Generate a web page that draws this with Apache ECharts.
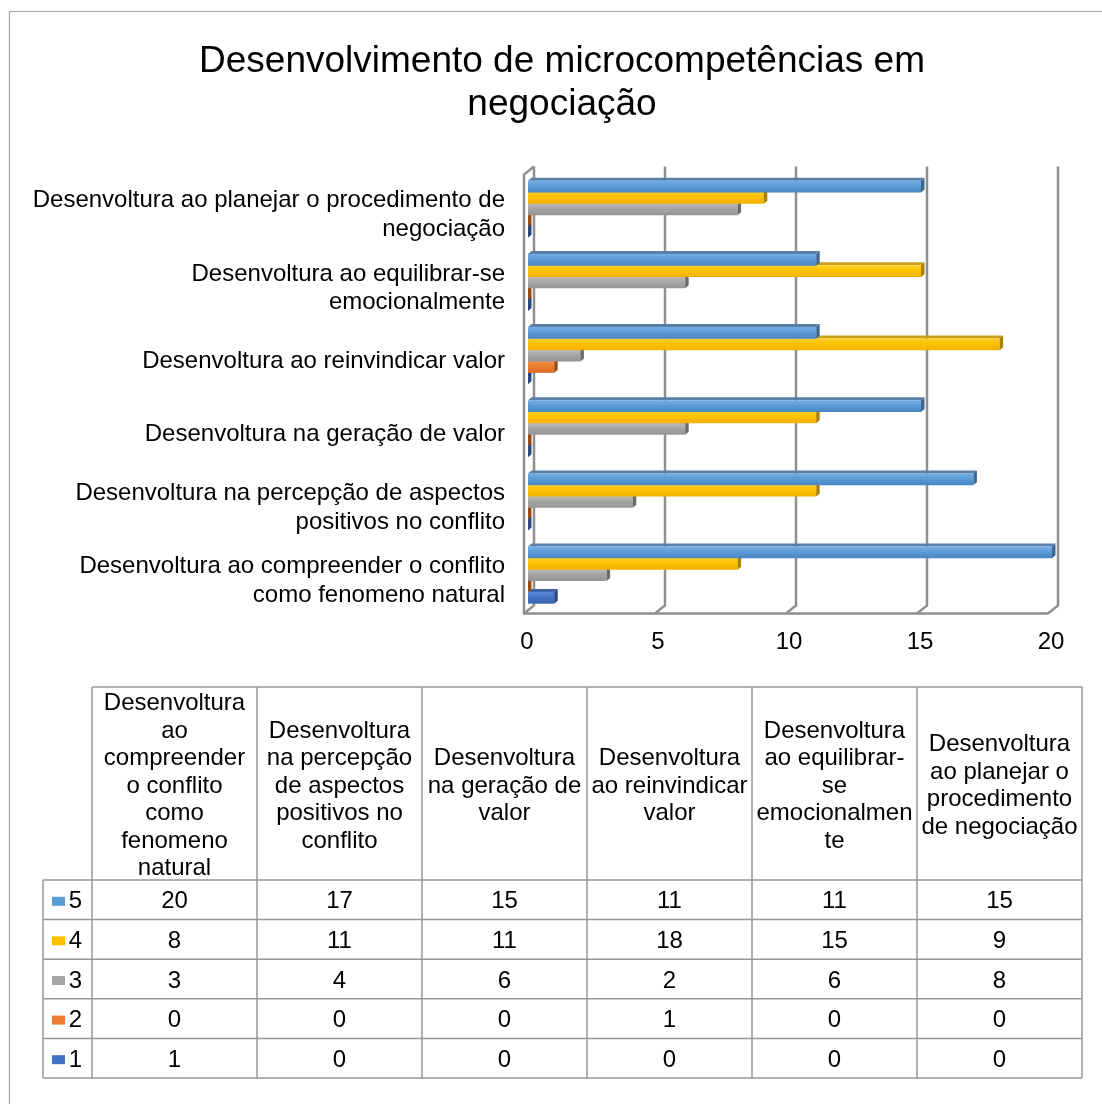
<!DOCTYPE html>
<html>
<head>
<meta charset="utf-8">
<title>Desenvolvimento de microcompetências em negociação</title>
<script src="https://cdn.jsdelivr.net/npm/echarts@6/dist/echarts.min.js"></script>
<style>
  html, body { margin: 0; padding: 0; background: #fff; }
  #chart { width: 1102px; height: 1104px; }
</style>
</head>
<body>
<div id="chart"></div>
<script>
// Competences, listed bottom-to-top on the bar chart and left-to-right in the table
const categories = [
  'Desenvoltura ao compreender o conflito\ncomo fenomeno natural',
  'Desenvoltura na percepção de aspectos\npositivos no conflito',
  'Desenvoltura na geração de valor',
  'Desenvoltura ao reinvindicar valor',
  'Desenvoltura ao equilibrar-se\nemocionalmente',
  'Desenvoltura ao planejar o procedimento de\nnegociação'
];
const tableHeaders = [
  'Desenvoltura\nao\ncompreender\no conflito\ncomo\nfenomeno\nnatural',
  'Desenvoltura\nna percepção\nde aspectos\npositivos no\nconflito',
  'Desenvoltura\nna geração de\nvalor',
  'Desenvoltura\nao reinvindicar\nvalor',
  'Desenvoltura\nao equilibrar-\nse\nemocionalmen\nte',
  'Desenvoltura\nao planejar o\nprocedimento\nde negociação'
];

// Answer counts per rating level
const level5 = [20, 17, 15, 11, 11, 15];
const level4 = [8, 11, 11, 18, 15, 9];
const level3 = [3, 4, 6, 2, 6, 8];
const level2 = [0, 0, 0, 1, 0, 0];
const level1 = [1, 0, 0, 0, 0, 0];

const tableRows = ['5', '4', '3', '2', '1'];
const xTicks = [0, 5, 10, 15, 20];

const levelValues = { '5': level5, '4': level4, '3': level3, '2': level2, '1': level1 };

const FONT = "'Liberation Sans', Arial, Helvetica, sans-serif";

// Colours for each level: front gradient, top face, end cap, legend key
const palette = {
  '5': { grad: ['#74afe6', '#5b9bd5', '#4886c4'], top: '#587fa8', cap: '#3d6894', key: '#5b9bd5' },
  '4': { grad: ['#ffd128', '#ffc000', '#f0b200'], top: '#c99f1e', cap: '#a98000', key: '#ffc000' },
  '3': { grad: ['#bcbcbc', '#a5a5a5', '#959595'], top: '#8d8d8d', cap: '#6a6a6a', key: '#a5a5a5' },
  '2': { grad: ['#f3924f', '#ed7d31', '#d96a1f'], top: '#bd6530', cap: '#9c4a14', key: '#ed7d31' },
  '1': { grad: ['#5a86d6', '#4472c4', '#3762ad'], top: '#3f63a0', cap: '#2a4880', key: '#4472c4' }
};

// 3D depth of the plot box: back wall and front floor relative to the bar plane
const BACK_DX = 6, BACK_DY = -4.5, FRONT_DX = -4, FRONT_DY = 3.5;
// bar depth (top face / end cap)
const BAR_DX = 3.5, BAR_DY = 3;
// bar slot as a share of the category band, and shift of the cluster
const SLOT_RATIO = 0.155, CLUSTER_SHIFT = 1.5;

const chart = echarts.init(document.getElementById('chart'), null, { renderer: 'canvas' });

function barRenderer(level) {
  const offset = 3 - Number(level); // level 1 lowest in the cluster, level 5 highest
  const pal = palette[level];
  return function (params, api) {
    const v = api.value(0);
    const c = api.value(1);
    const p0 = api.coord([0, c]);
    const p1 = api.coord([v, c]);
    const band = api.size([0, 1])[1];
    const slot = band * SLOT_RATIO;
    const yc = p0[1] + offset * slot + CLUSTER_SHIFT;
    const yFront = yc - slot / 2;
    const yTop = yFront - BAR_DY;
    const yBot = yc + slot / 2 + 0.4;
    const x0 = p0[0], x1 = p1[0];
    const children = [];
    if (x1 > x0 + 0.1) {
      children.push({
        type: 'polygon',
        shape: { points: [[x0, yFront], [x1, yFront], [x1 + BAR_DX, yTop], [x0 + BAR_DX, yTop]] },
        style: { fill: pal.top }
      });
      children.push({
        type: 'rect',
        shape: { x: x0, y: yFront, width: x1 - x0, height: yBot - yFront },
        style: {
          fill: new echarts.graphic.LinearGradient(0, 0, 0, 1, [
            { offset: 0, color: pal.grad[0] },
            { offset: 0.45, color: pal.grad[1] },
            { offset: 1, color: pal.grad[2] }
          ])
        }
      });
    }
    children.push({
      type: 'polygon',
      shape: { points: [[x1, yFront], [x1 + BAR_DX, yTop], [x1 + BAR_DX, yBot - BAR_DY], [x1, yBot]] },
      style: { fill: pal.cap }
    });
    return { type: 'group', children: children };
  };
}

const wallStyle = { stroke: '#8f8f8f', lineWidth: 2.5, fill: null, lineJoin: 'miter' };

function frameRenderer(params, api) {
  const cs = params.coordSys;
  const top = cs.y, bot = cs.y + cs.height;
  const x = api.coord([api.value(0), 0])[0];
  const children = [{
    type: 'polyline',
    shape: { points: [[x + BACK_DX, top + BACK_DY], [x + BACK_DX, bot + BACK_DY], [x + FRONT_DX, bot + FRONT_DY]] },
    style: wallStyle
  }];
  if (params.dataIndex === 0) {
    const xEnd = api.coord([xTicks[xTicks.length - 1], 0])[0];
    children.push({
      type: 'polyline',
      shape: { points: [[x + BACK_DX, top + BACK_DY], [x + FRONT_DX, top + BACK_DY + 8], [x + FRONT_DX, bot + FRONT_DY], [xEnd + FRONT_DX, bot + FRONT_DY]] },
      style: wallStyle
    });
  }
  return { type: 'group', children: children };
}

// Data table: borders, legend keys and row names
const HEADER_H = 193;
const KEY_COL_W = 49;
const KEY_W = 13, KEY_H = 9, KEY_INSET = 9;
const tableLine = { stroke: '#979797', lineWidth: 1.5, fill: null };

function tableFrameRenderer(params, api) {
  const cs = params.coordSys;
  const colW = api.size([1, 0])[0];
  const rowH = api.size([0, 1])[1];
  const left = cs.x, top = cs.y, right = cs.x + cs.width, bottom = cs.y + cs.height;
  const children = [];
  children.push({ type: 'line', shape: { x1: left, y1: top - HEADER_H, x2: right, y2: top - HEADER_H }, style: tableLine });
  for (let j = 0; j <= tableHeaders.length; j++) {
    const x = left + j * colW;
    children.push({ type: 'line', shape: { x1: x, y1: top - HEADER_H, x2: x, y2: bottom }, style: tableLine });
  }
  children.push({ type: 'line', shape: { x1: left - KEY_COL_W, y1: top, x2: left - KEY_COL_W, y2: bottom }, style: tableLine });
  for (let i = 0; i <= tableRows.length; i++) {
    const y = top + i * rowH;
    children.push({ type: 'line', shape: { x1: left - KEY_COL_W, y1: y, x2: right, y2: y }, style: tableLine });
  }
  tableRows.forEach(function (lvl, r) {
    const yc = api.coord([0, r])[1];
    children.push({
      type: 'rect',
      shape: { x: left - KEY_COL_W + KEY_INSET, y: yc - KEY_H / 2 + 1.5, width: KEY_W, height: KEY_H },
      style: { fill: palette[lvl].key }
    });
    children.push({
      type: 'text',
      x: left - 10, y: yc + 2,
      style: { text: lvl, align: 'right', verticalAlign: 'middle', fontSize: 24, fontFamily: FONT, fill: '#000' }
    });
  });
  return { type: 'group', children: children };
}

function tableCellRenderer(params, api) {
  const p = api.coord([api.value(0), api.value(1)]);
  return {
    type: 'text',
    x: p[0], y: p[1] + 2,
    style: {
      text: String(api.value(2)),
      align: 'center', verticalAlign: 'middle',
      fontSize: 24, fontFamily: FONT, fill: '#000'
    }
  };
}

const tableCells = [];
tableRows.forEach(function (lvl, r) {
  levelValues[lvl].forEach(function (v, c) { tableCells.push([c, r, v]); });
});

const barSeries = ['1', '2', '3', '4', '5'].map(function (lvl) {
  return {
    name: lvl,
    type: 'custom',
    xAxisIndex: 0, yAxisIndex: 0,
    renderItem: barRenderer(lvl),
    encode: { x: 0, y: 1 },
    clip: false,
    z: 3,
    silent: true,
    data: levelValues[lvl].map(function (v, i) { return [v, i]; })
  };
});

const option = {
  backgroundColor: '#ffffff',
  animation: false,
  textStyle: { fontFamily: FONT },
  graphic: [
    {
      type: 'rect', silent: true,
      shape: { x: 9.5, y: 11.5, width: 1200, height: 1200 },
      style: { fill: null, stroke: '#a3a3a3', lineWidth: 1.2 }
    },
    {
      type: 'text', x: 562, y: 62, silent: true,
      style: { text: 'Desenvolvimento de microcompetências em', align: 'center', verticalAlign: 'middle', fontSize: 37, fontFamily: FONT, fill: '#000' }
    },
    {
      type: 'text', x: 562, y: 105, silent: true,
      style: { text: 'negociação', align: 'center', verticalAlign: 'middle', fontSize: 37, fontFamily: FONT, fill: '#000' }
    }
  ],
  grid: [
    // bar plane
    { left: 528, top: 171, width: 524, height: 439, containLabel: false, outerBoundsMode: 'none' },
    // data table
    { left: 92, top: 880, width: 990, height: 198, containLabel: false, outerBoundsMode: 'none' },
    // category labels, set on the front plane of the 3D box
    { left: 524, top: 178.5, width: 524, height: 439, containLabel: false, outerBoundsMode: 'none' }
  ],
  xAxis: [
    {
      gridIndex: 0, type: 'value', min: 0, max: 20, interval: 5,
      axisLine: { show: false }, axisTick: { show: false }, splitLine: { show: false },
      axisLabel: { fontSize: 24, color: '#000', fontFamily: FONT, margin: 20, padding: [0, 2, 0, 0] }
    },
    {
      gridIndex: 1, type: 'category', position: 'top', data: tableHeaders,
      axisLine: { show: false }, axisTick: { show: false }, splitLine: { show: false },
      axisLabel: { interval: 0, fontSize: 24, lineHeight: 27.5, color: '#000', fontFamily: FONT, margin: 94, verticalAlign: 'middle', align: 'center' }
    },
    {
      gridIndex: 2, type: 'value', min: 0, max: 20, show: false
    }
  ],
  yAxis: [
    {
      gridIndex: 0, type: 'category', data: categories, show: false
    },
    {
      gridIndex: 1, type: 'category', data: tableRows, inverse: true, show: false
    },
    {
      gridIndex: 2, type: 'category', data: categories,
      axisLine: { show: false }, axisTick: { show: false }, splitLine: { show: false },
      axisLabel: { interval: 0, fontSize: 24, lineHeight: 28.5, color: '#000', fontFamily: FONT, margin: 19, align: 'right', verticalAlign: 'middle' }
    }
  ],
  series: [
    {
      name: 'frame', type: 'custom', xAxisIndex: 0, yAxisIndex: 0,
      renderItem: frameRenderer, encode: { x: 0 }, clip: false, z: 1, silent: true,
      data: xTicks.map(function (t) { return [t]; })
    }
  ].concat(barSeries).concat([
    {
      name: 'tableFrame', type: 'custom', xAxisIndex: 1, yAxisIndex: 1,
      renderItem: tableFrameRenderer, clip: false, z: 1, silent: true,
      data: [[0, 0]]
    },
    {
      name: 'tableCells', type: 'custom', xAxisIndex: 1, yAxisIndex: 1,
      renderItem: tableCellRenderer, encode: { x: 0, y: 1 }, clip: false, z: 2, silent: true,
      data: tableCells
    }
  ])
};

chart.setOption(option);
</script>
</body>
</html>
